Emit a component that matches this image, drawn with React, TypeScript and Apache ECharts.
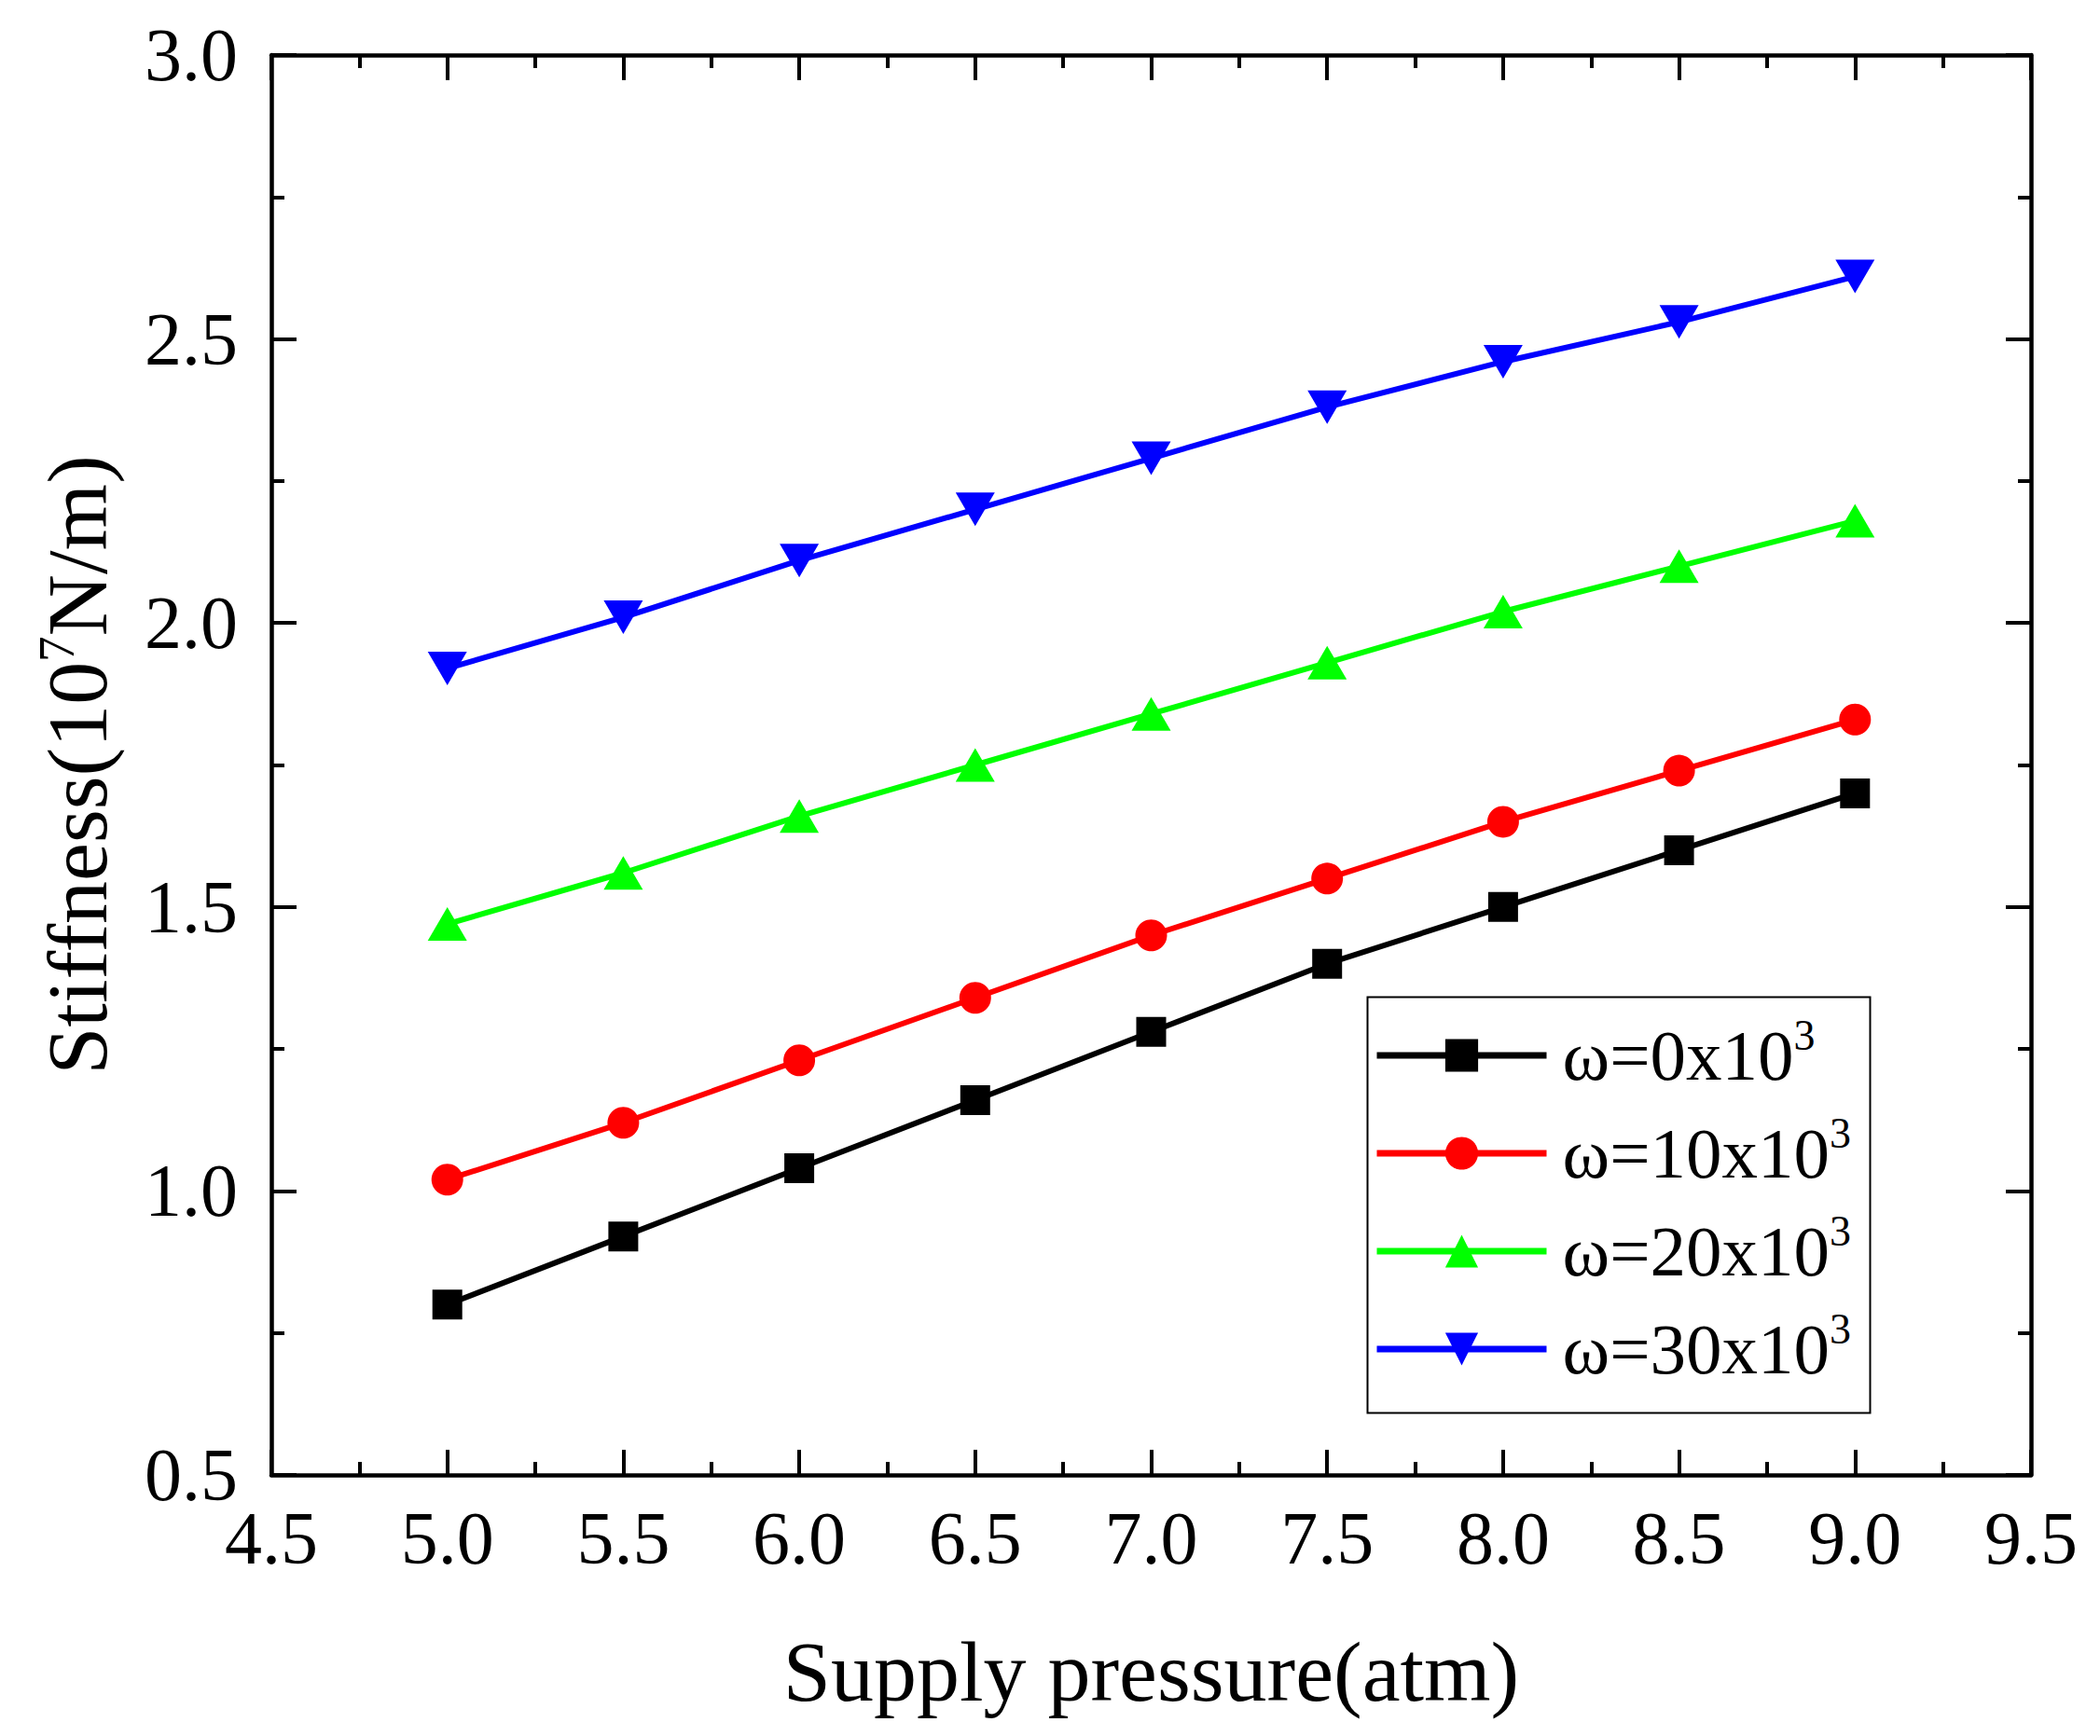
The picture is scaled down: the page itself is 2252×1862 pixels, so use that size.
import { useRef, useEffect } from "react";
import * as echarts from "echarts";

// supply pressure (atm)
const pressures = [5.0, 5.5, 6.0, 6.5, 7.0, 7.5, 8.0, 8.5, 9.0];

// stiffness (10^7 N/m) for each rotation speed
const stiff0 = [0.8, 0.92, 1.04, 1.16, 1.28, 1.4, 1.5, 1.6, 1.7];
const stiff10 = [1.02, 1.12, 1.23, 1.34, 1.45, 1.55, 1.65, 1.74, 1.83];
const stiff20 = [1.47, 1.56, 1.66, 1.75, 1.84, 1.93, 2.02, 2.1, 2.18];
const stiff30 = [1.92, 2.01, 2.11, 2.2, 2.29, 2.38, 2.46, 2.53, 2.61];

const seriesNames = ["ω=0x10³", "ω=10x10³", "ω=20x10³", "ω=30x10³"];
const seriesColors = ["#000000", "#ff0000", "#00ff00", "#0000ff"];
const seriesSymbols = ["rect", "circle", "triangle", "path://M0,0 L10,0 L5,10 Z"];
const seriesSizes: (number | number[])[] = [32, 34, [42, 36], [42, 36]];

const FONT = "'Liberation Serif', 'Times New Roman', serif";

const axisCommon = {
  type: "value" as const,
  axisLine: { show: true, lineStyle: { color: "#000", width: 4.5 } },
  axisTick: { show: true, inside: true, length: 27, lineStyle: { color: "#000", width: 4 } },
  minorTick: { show: true, splitNumber: 2, length: 14, lineStyle: { color: "#000", width: 4 } },
  splitLine: { show: false },
  minorSplitLine: { show: false },
};

const App = () => {
  const chartRef = useRef<HTMLDivElement>(null);

  useEffect(() => {
    document.body.style.margin = "0";
    const chart = echarts.init(chartRef.current, null, { renderer: "svg" });

    const allData = [stiff0, stiff10, stiff20, stiff30];

    chart.setOption({
      animation: false,
      backgroundColor: "#fff",
      grid: { left: 291, right: 74, top: 59, bottom: 280, containLabel: false },
      xAxis: [
        {
          ...axisCommon,
          min: 4.5,
          max: 9.5,
          interval: 0.5,
          position: "bottom",
          name: "Supply pressure(atm)",
          nameLocation: "middle",
          nameGap: 165,
          nameTextStyle: { fontFamily: FONT, fontSize: 92, color: "#000" },
          axisLabel: {
            margin: 28,
            fontFamily: FONT,
            fontSize: 80,
            color: "#000",
            formatter: (v: number) => v.toFixed(1),
          },
        },
        {
          ...axisCommon,
          min: 4.5,
          max: 9.5,
          interval: 0.5,
          position: "top",
          axisLabel: { show: false },
        },
      ],
      yAxis: [
        {
          ...axisCommon,
          min: 0.5,
          max: 3.0,
          interval: 0.5,
          position: "left",
          name: "Stiffness(10{sup|7}N/m)",
          nameLocation: "middle",
          nameGap: 158,
          nameTextStyle: {
            fontFamily: FONT,
            fontSize: 92,
            color: "#000",
            lineHeight: 100,
            rich: {
              sup: { fontFamily: FONT, fontSize: 55, color: "#000", verticalAlign: "top", lineHeight: 55 },
            },
          },
          axisLabel: {
            margin: 36,
            fontFamily: FONT,
            fontSize: 80,
            color: "#000",
            formatter: (v: number) => v.toFixed(1),
          },
        },
        {
          ...axisCommon,
          min: 0.5,
          max: 3.0,
          interval: 0.5,
          position: "right",
          axisLabel: { show: false },
        },
      ],
      legend: {
        orient: "vertical",
        left: 1473,
        top: 1067,
        padding: [20, 10, 10, 0],
        itemWidth: 182,
        itemHeight: 44,
        itemGap: 15,
        borderWidth: 0,
        data: seriesNames,
        lineStyle: { width: 7 },
        formatter: (name: string) => name.replace("³", "{sup|3}"),
        textStyle: {
          fontFamily: FONT,
          fontSize: 77,
          color: "#000",
          lineHeight: 90,
          padding: [0, 0, 0, 12],
          rich: {
            sup: { fontFamily: FONT, fontSize: 46, color: "#000", verticalAlign: "top", lineHeight: 46 },
          },
        },
      },
      graphic: [
        {
          type: "rect",
          left: 1464,
          top: 1067,
          shape: { width: 539, height: 446 },
          style: { fill: "none", stroke: "#000", lineWidth: 2 },
          silent: true,
        },
      ],
      series: seriesNames.map((name, i) => ({
        name,
        type: "line",
        xAxisIndex: 0,
        yAxisIndex: 0,
        data: pressures.map((p, j) => [p, allData[i][j]]),
        symbol: seriesSymbols[i],
        symbolSize: seriesSizes[i],
        showAllSymbol: true,
        lineStyle: { color: seriesColors[i], width: 6 },
        itemStyle: { color: seriesColors[i] },
      })),
    });

    return () => {
      chart.dispose();
    };
  }, []);

  return <div ref={chartRef} style={{ width: "2252px", height: "1862px" }}></div>;
};

export default App;
